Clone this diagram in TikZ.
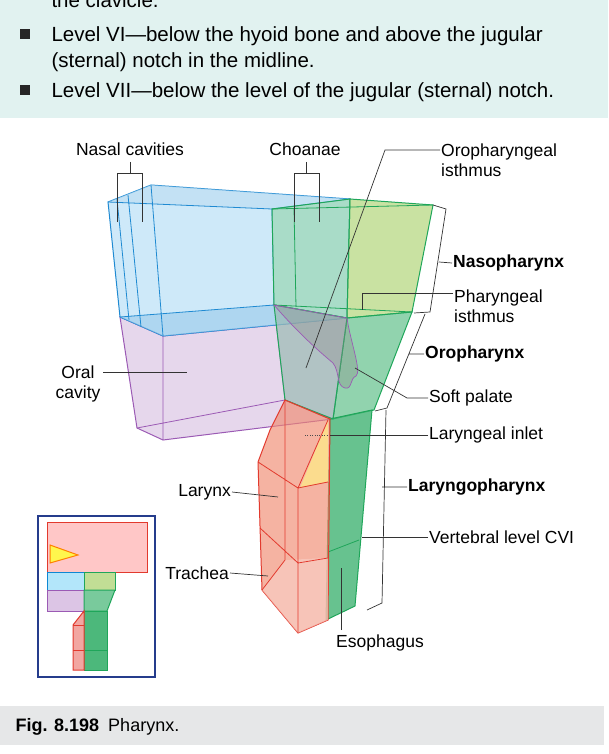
\documentclass[tikz,border=0pt]{standalone}
\usepackage{fontspec}
\setmainfont{Liberation Sans}
\definecolor{panelbg}{HTML}{E1F2F0}
\definecolor{capbg}{HTML}{E6E7E8}
\definecolor{bluel}{HTML}{1F8AD2}
\definecolor{bluef}{HTML}{B9E0F6}
\definecolor{greenl}{HTML}{1FA65A}
\definecolor{purplel}{HTML}{9B5AB4}
\definecolor{purplef}{HTML}{DCC6E4}
\definecolor{redl}{HTML}{E23A2E}
\definecolor{redf}{HTML}{F08A70}
\definecolor{yellowg}{HTML}{B2D67A}
\definecolor{insetl}{HTML}{253C8C}
\tikzset{
  lbl/.style={font=\fontsize{17.5}{20}\selectfont, inner sep=1pt},
  blbl/.style={lbl, font=\fontsize{17.5}{20}\selectfont\bfseries},
  lead/.style={draw=black!80, line width=0.7pt},
  part/.style={line width=1pt, fill opacity=0.7},
}
\begin{document}
\begin{tikzpicture}[x=1pt, y=-1pt]

    % the frame
    \useasboundingbox (0,0) rectangle (608,754);
    \fill[panelbg] (0,0) rectangle (608,118);
    \fill[capbg] (0,706) rectangle (604,745);

    % the text panel
    \node[anchor=base west, font=\fontsize{20.5}{22}\selectfont] (t0) at (48,8) {the clavicle.};
    \foreach \y/\txt [count=\k] in {42/{Level VI---below the hyoid bone and above the jugular},
                        68/{(sternal) notch in the midline.},
                        98/{Level VII---below the level of the jugular (sternal) notch.}} {
        \node[anchor=base west, font=\fontsize{20.5}{22}\selectfont] (t\k) at (48,\y) {\txt};
    };
    \fill[black!85] (20,29) rectangle (30,39);
    \fill[black!85] (20,85) rectangle (30,95);

    % oral cavity
    \filldraw[part, draw=purplel, fill=purplef] (120,317) -- (163,336) -- (347,318) -- (333,419)
        -- (163,440) -- (137,428) -- cycle;
    \draw[purplel, line width=0.8pt] (163,336) -- (163,440) (137,428) -- (285,400) -- (333,419)
        (274,305) -- (285,400);

    % nasal cavities
    \filldraw[part, draw=bluel, fill=bluef] (108,202) -- (151,185) -- (350,199) -- (347,318)
        -- (163,336) -- (120,317) -- cycle;
    \fill[bluel!45, opacity=0.6] (120,317) -- (274,305) -- (347,318) -- (163,336) -- cycle;
    \fill[bluel!30, opacity=0.6] (108,202) -- (151,185) -- (350,199) -- (272,209) -- cycle;
    \draw[bluel, line width=0.8pt] (108,202) -- (272,209) -- (350,199) (272,209) -- (274,305)
        (120,317) -- (274,305) -- (347,318) (151,185) -- (163,336)
        (128,195) -- (141,327) (117,199) -- (129,320);

    % nasopharynx
    \filldraw[part, draw=greenl, fill=greenl!45] (272,209) -- (350,199) -- (347,318) -- (274,305) -- cycle;
    \filldraw[part, draw=greenl, fill=yellowg] (350,199) -- (433,205) -- (412,312) -- (347,318) -- cycle;
    \draw[greenl, line width=0.8pt] (272,209) -- (433,205) (274,305) -- (412,312) (294,208) -- (296,307);

    % oropharynx
    \filldraw[part, draw=greenl, fill=greenl!70] (347,318) -- (412,312) -- (374,410) -- (333,419) -- cycle;
    \filldraw[part, draw=greenl, fill=greenl!35!purplef] (274,305) -- (347,318) -- (333,419) -- (285,400) -- cycle;
    \filldraw[draw=purplel, fill=black!45, fill opacity=0.35, line width=0.7pt]
        (274,305) .. controls (300,335) and (320,352) .. (333,363) .. controls (340,372) and (336,386) .. (345,388)
        .. controls (352,390) and (350,378) .. (356,376) .. controls (362,372) and (350,340) .. (347,318) -- cycle;

    % laryngopharynx
    \filldraw[part, draw=greenl, fill=greenl!85, fill opacity=0.8] (330,419) -- (372,410) -- (355,606) -- (326,620) -- cycle;
    \draw[greenl, line width=0.8pt] (328,552) -- (359,540) (285,400) -- (330,419);

    % larynx
    \filldraw[part, draw=redl, fill=redf, fill opacity=0.65] (285,400) -- (330,419) -- (328,620) -- (298,633)
        -- (262,590) -- (258,462) -- (270,430) -- cycle;
    \fill[redf!40, opacity=0.6] (262,590) -- (285,560) -- (328,558) -- (328,620) -- (298,633) -- cycle;
    \fill[yellow!50!white, opacity=0.6] (300,488) -- (328,420) -- (328,482) -- cycle;
    \draw[redl, line width=0.8pt] (258,462) -- (298,488) -- (328,482) (298,488) -- (328,420)
        (298,488) -- (298,633) (260,528) -- (298,563) -- (328,558) (285,400) -- (285,560) -- (262,590);

    % labels
    \node[lbl] (nasal) at (130,149) {Nasal cavities};
    \node[lbl] (choanae) at (305,149) {Choanae};
    \draw[lead] (130,162) -- (130,173) (117,222) -- (117,173) -- (142,173) -- (142,222);
    \draw[lead] (306,162) -- (306,173) (294,222) -- (294,173) -- (319,173) -- (319,222);
    \node[lbl, anchor=west, align=left] (oroisth) at (440,160) {Oropharyngeal\\isthmus};
    \coordinate (oroisthp) at (306,368);
    \draw[lead] (oroisth.west |- 0,150) -- (385,150) -- (oroisthp);
    \node[blbl, anchor=west] (naso) at (452,263) {Nasopharynx};
    \draw[lead] (433,205) -- (446,209) -- (430,312) -- (414,313) (439,262) -- (naso.west);
    \node[lbl, anchor=west, align=left] (pharisth) at (453,306) {Pharyngeal\\isthmus};
    \draw[lead] (pharisth.west |- 0,293) -- (362,293) -- (362,310);
    \node[blbl, anchor=west] (oro) at (424,354) {Oropharynx};
    \draw[lead] (425,314) -- (387,408) -- (375,411) (409,354) -- (oro.west);
    \node[lbl, anchor=west] (soft) at (428,398) {Soft palate};
    \draw[lead] (soft.west) -- (407,398) -- (355,368);
    \node[lbl, anchor=west] (inlet) at (428,435) {Laryngeal inlet};
    \draw[lead] (inlet.west) -- (330,435);
    \draw[black!70, dotted] (305,435) -- (328,435);
    \node[blbl, anchor=west] (laryngo) at (407,487) {Laryngopharynx};
    \draw[lead] (386,410) -- (382,603) -- (367,610) (382,487) -- (laryngo.west);
    \node[lbl, anchor=west] (cvi) at (428,537) {Vertebral level CVI};
    \draw[lead] (cvi.west) -- (362,537);
    \node[lbl] (eso) at (380,643) {Esophagus};
    \draw[lead] (341,630) -- (341,568);
    \node[lbl, anchor=east] (larynx) at (232,492) {Larynx};
    \draw[lead] (larynx.east) -- (278,497);
    \node[lbl, anchor=east] (trachea) at (230,573) {Trachea};
    \draw[lead] (trachea.east) -- (268,576);
    \node[lbl, align=center] (oral) at (78,384) {Oral\\cavity};
    \draw[lead] (103,372) -- (187,372);

    % inset
    \draw[insetl, line width=2pt] (38,516) rectangle (155,677);
    \filldraw[fill=red!22, draw=redl, line width=1pt] (47,522) rectangle (147,572);
    \filldraw[fill=yellow!70, draw=orange, line width=1pt] (50,545) -- (78,555) -- (50,563) -- cycle;
    \filldraw[fill=cyan!30, draw=cyan!70!blue] (47,572) rectangle (84,590);
    \filldraw[fill=yellowg!80, draw=greenl, line width=1pt] (84,572) rectangle (115,590);
    \filldraw[fill=purplel!35, draw=purplel, line width=1pt] (47,590) rectangle (84,611);
    \filldraw[fill=greenl!60, draw=greenl, line width=1pt] (84,590) -- (115,590) -- (107,611) -- (84,611) -- cycle;
    \filldraw[fill=greenl!80, draw=greenl, line width=1pt] (84,611) rectangle (107,670);
    \draw[greenl, line width=1pt] (84,650) -- (107,650);
    \filldraw[fill=redl!45, draw=redl, line width=1pt] (73,625) -- (84,611) -- (84,670) -- (73,670) -- cycle;
    \draw[redl, line width=1pt] (73,625) -- (84,625) (73,650) -- (84,650);

    % caption
    \node[anchor=base west, font=\fontsize{18}{20}\selectfont] (cap) at (12,731) {\textbf{Fig. 8.198}\enspace Pharynx.};
\end{tikzpicture}
\end{document}
